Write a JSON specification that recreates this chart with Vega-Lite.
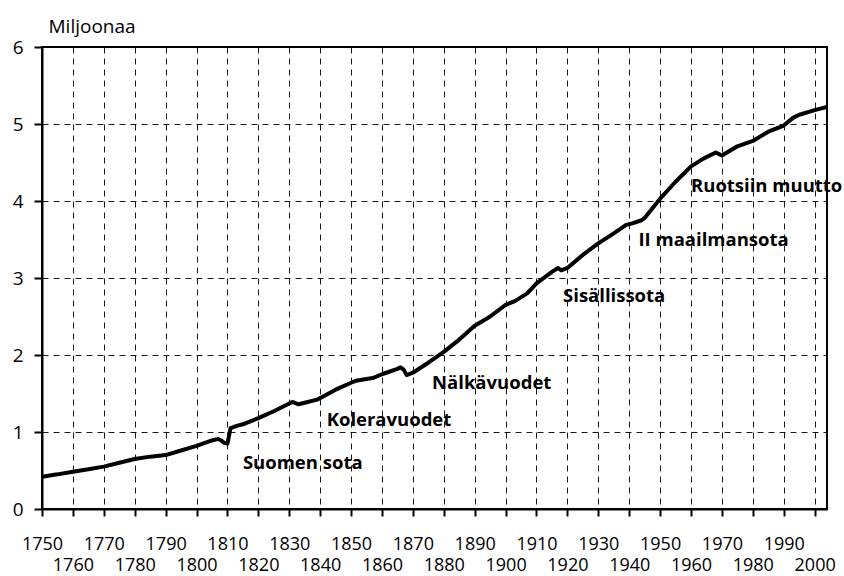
{
  "$schema": "https://vega.github.io/schema/vega-lite/v6.json",
  "width": 785,
  "height": 462,
  "autosize": {"type": "none"},
  "padding": {"left": 42, "top": 47, "right": 17, "bottom": 67},
  "background": "white",
  "config": {
    "font": "Open Sans, sans-serif",
    "view": {"stroke": "black", "strokeWidth": 2},
    "axis": {
      "domainColor": "black",
      "domainWidth": 2,
      "tickColor": "black",
      "tickWidth": 2,
      "gridColor": "black",
      "gridWidth": 1,
      "gridDash": [6, 5],
      "gridOpacity": 0.9,
      "labelColor": "black",
      "labelFontSize": 18,
      "labelFont": "Open Sans, sans-serif",
      "titleFont": "Open Sans, sans-serif"
    }
  },
  "resolve": {"axis": {"x": "independent"}},
  "datasets": {
    "pop": [
      {"year": 1750, "value": 0.42}, {"year": 1755, "value": 0.45}, {"year": 1760, "value": 0.485},
      {"year": 1765, "value": 0.515}, {"year": 1770, "value": 0.55}, {"year": 1775, "value": 0.6},
      {"year": 1780, "value": 0.65}, {"year": 1785, "value": 0.68}, {"year": 1790, "value": 0.7},
      {"year": 1795, "value": 0.76}, {"year": 1800, "value": 0.82}, {"year": 1805, "value": 0.89},
      {"year": 1807, "value": 0.91}, {"year": 1808, "value": 0.89}, {"year": 1809, "value": 0.86},
      {"year": 1810, "value": 0.85}, {"year": 1811, "value": 1.05}, {"year": 1813, "value": 1.08},
      {"year": 1815, "value": 1.1}, {"year": 1820, "value": 1.18}, {"year": 1825, "value": 1.27},
      {"year": 1830, "value": 1.37}, {"year": 1831, "value": 1.39}, {"year": 1833, "value": 1.36},
      {"year": 1835, "value": 1.38}, {"year": 1839, "value": 1.42}, {"year": 1845, "value": 1.55},
      {"year": 1850, "value": 1.64}, {"year": 1852, "value": 1.67}, {"year": 1857, "value": 1.7},
      {"year": 1860, "value": 1.75}, {"year": 1865, "value": 1.82}, {"year": 1866, "value": 1.84},
      {"year": 1867, "value": 1.81}, {"year": 1868, "value": 1.74}, {"year": 1870, "value": 1.77},
      {"year": 1875, "value": 1.9}, {"year": 1880, "value": 2.04}, {"year": 1885, "value": 2.2},
      {"year": 1890, "value": 2.38}, {"year": 1893, "value": 2.45}, {"year": 1895, "value": 2.5},
      {"year": 1900, "value": 2.65}, {"year": 1903, "value": 2.7}, {"year": 1907, "value": 2.8},
      {"year": 1910, "value": 2.93}, {"year": 1915, "value": 3.08}, {"year": 1917, "value": 3.13},
      {"year": 1918, "value": 3.1}, {"year": 1920, "value": 3.13}, {"year": 1925, "value": 3.3},
      {"year": 1930, "value": 3.45}, {"year": 1935, "value": 3.58}, {"year": 1939, "value": 3.69},
      {"year": 1941, "value": 3.71}, {"year": 1944, "value": 3.75}, {"year": 1945, "value": 3.78},
      {"year": 1950, "value": 4.03}, {"year": 1955, "value": 4.25}, {"year": 1960, "value": 4.45},
      {"year": 1964, "value": 4.55}, {"year": 1968, "value": 4.63}, {"year": 1970, "value": 4.59},
      {"year": 1975, "value": 4.71}, {"year": 1980, "value": 4.78}, {"year": 1985, "value": 4.9},
      {"year": 1990, "value": 4.98}, {"year": 1993, "value": 5.08}, {"year": 1995, "value": 5.12},
      {"year": 2000, "value": 5.18}, {"year": 2004, "value": 5.22}
    ],
    "notes": [
      {"year": 1815, "value": 0.6, "label": "Suomen sota"},
      {"year": 1842.1, "value": 1.156, "label": "Koleravuodet"},
      {"year": 1876.2, "value": 1.636, "label": "Nälkävuodet"},
      {"year": 1918.6, "value": 2.766, "label": "Sisällissota"},
      {"year": 1943, "value": 3.49, "label": "II maailmansota"},
      {"year": 1960, "value": 4.2, "label": "Ruotsiin muutto"}
    ]
  },
  "layer": [
    {
      "data": {"name": "pop"},
      "mark": {"type": "line", "color": "black", "strokeWidth": 4, "strokeJoin": "round", "strokeCap": "round", "clip": true},
      "encoding": {
        "x": {
          "field": "year", "type": "quantitative",
          "scale": {"domain": [1750, 2004], "nice": false, "zero": false},
          "axis": {
            "title": null,
            "orient": "bottom",
            "values": [1750, 1760, 1770, 1780, 1790, 1800, 1810, 1820, 1830, 1840, 1850, 1860, 1870, 1880, 1890, 1900, 1910, 1920, 1930, 1940, 1950, 1960, 1970, 1980, 1990, 2000],
            "format": "d",
            "tickSize": 7,
            "labelPadding": 33,
            "labelBaseline": "alphabetic",
            "labelOverlap": false,
            "labelFlush": false,
            "labelExpr": "(datum.value - 1750) % 20 == 0 ? datum.label : ''"
          }
        },
        "y": {
          "field": "value", "type": "quantitative",
          "scale": {"domain": [0, 6], "nice": false},
          "axis": {
            "values": [0, 1, 2, 3, 4, 5, 6],
            "format": "d",
            "tickSize": 8,
            "labelPadding": 11,
            "labelFontSize": 19,
            "title": "Miljoonaa",
            "titleAngle": 0,
            "titleAlign": "left",
            "titleBaseline": "alphabetic",
            "titleX": 6,
            "titleY": -15,
            "titleFontSize": 19,
            "titleFontWeight": "normal",
            "titleColor": "black"
          }
        }
      }
    },
    {
      "data": {"name": "notes"},
      "mark": {"type": "text", "align": "left", "baseline": "middle", "fontWeight": "bold", "fontSize": 18.5, "color": "black", "font": "Open Sans, sans-serif"},
      "encoding": {
        "x": {
          "field": "year", "type": "quantitative",
          "axis": {
            "title": null,
            "orient": "bottom",
            "offset": 0,
            "domain": false,
            "ticks": false,
            "grid": false,
            "values": [1750, 1760, 1770, 1780, 1790, 1800, 1810, 1820, 1830, 1840, 1850, 1860, 1870, 1880, 1890, 1900, 1910, 1920, 1930, 1940, 1950, 1960, 1970, 1980, 1990, 2000],
            "format": "d",
            "labelPadding": 61,
            "labelBaseline": "alphabetic",
            "labelOverlap": false,
            "labelFlush": false,
            "labelExpr": "(datum.value - 1750) % 20 == 10 ? datum.label : ''"
          }
        },
        "y": {"field": "value", "type": "quantitative"},
        "text": {"field": "label"}
      }
    }
  ]
}
